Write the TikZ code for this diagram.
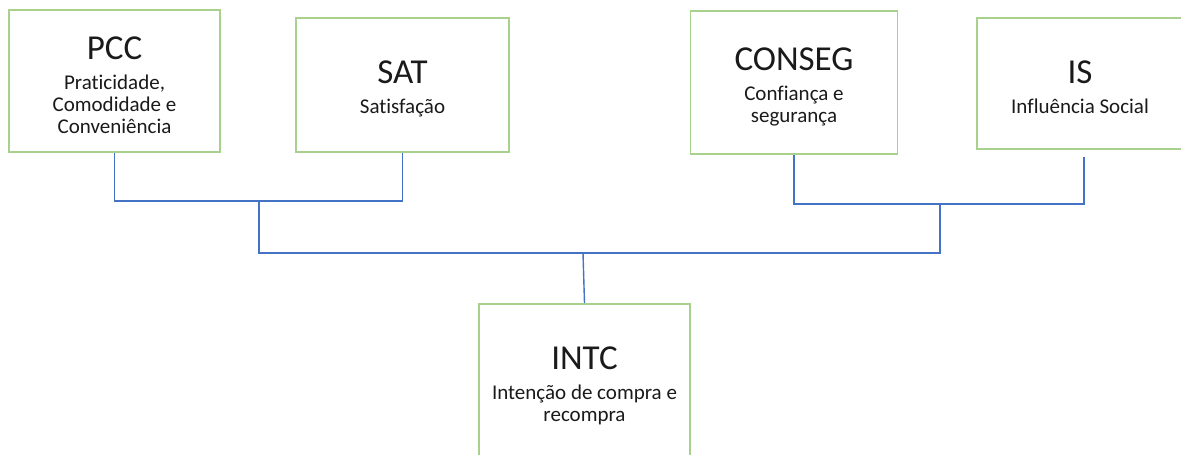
\documentclass[tikz,border=0pt]{standalone}
\usepackage{fontspec}
\setmainfont{Carlito}[Ligatures=NoCommon]
\definecolor{boxgreen}{HTML}{A9D18E}
\definecolor{linkblue}{HTML}{4472C4}
\definecolor{ink}{HTML}{1A1A1A}
\newcommand{\ttl}[1]{{\fontsize{35}{35}\selectfont #1}\\[8pt]}
\begin{document}
\begin{tikzpicture}[x=1pt,y=-1pt,
  construct/.style={draw=boxgreen, line width=1.8pt, fill=white, rectangle,
    inner sep=0pt},
  caption/.style={align=center, text=ink, inner sep=0pt, yshift=-4pt,
    font=\fontsize{21}{22}\selectfont},
  link/.style={draw=linkblue, line width=1.4pt}]
  \useasboundingbox (0,0) rectangle (1181,455);

  % construct frames
  \node[construct, minimum width=211pt, minimum height=142pt] (PCC) at (114.5,81) {};
  \node[construct, minimum width=213pt, minimum height=134pt] (SAT) at (402.5,85) {};
  \node[construct, minimum width=207pt, minimum height=143pt] (CONSEG) at (794,82.5) {};
  \node[construct, minimum width=206pt, minimum height=131pt] (IS) at (1080,83.5) {};
  \node[construct, minimum width=211pt, minimum height=156pt] (INTC) at (584.5,382) {};

  % construct names and descriptions
  \node[caption] (PCC-t) at (PCC.center) {\ttl{PCC}Praticidade,\\Comodidade e\\Conveniência};
  \node[caption] (SAT-t) at (SAT.center) {\ttl{SAT}Satisfação};
  \node[caption] (CONSEG-t) at (CONSEG.center) {\ttl{CONSEG}Confiança e\\segurança};
  \node[caption] (IS-t) at (IS.center) {\ttl{IS}Influência Social};
  \node[caption] (INTC-t) at (INTC.center) {\ttl{INTC}Intenção de compra e\\recompra};

  % junction points of the tree
  \coordinate (jl) at (259,201);
  \coordinate (jr) at (940,204);
  \coordinate (jm) at (583,253);
  \coordinate (istop) at (1084,157);

  % connectors
  \draw[link] (PCC.south) |- (jl) -| (SAT.south);
  \draw[link] (CONSEG.south) |- (jr) -| (istop);
  \draw[link] (jl) |- (jm) -| (jr);
  \draw[link] (jm) -- (INTC.north);
\end{tikzpicture}
\end{document}
